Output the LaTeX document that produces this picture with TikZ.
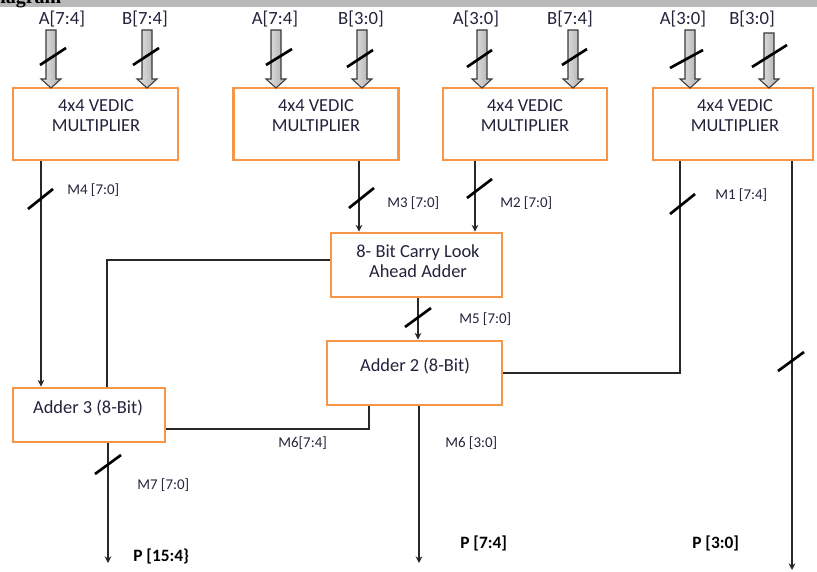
\documentclass[tikz,border=0pt]{standalone}
\usepackage{fontspec}
\setmainfont{Carlito}
\newfontfamily\headfont{Liberation Serif}
\usetikzlibrary{arrows.meta,calc}
\definecolor{boxorange}{RGB}{247,150,70}
\definecolor{txt}{RGB}{35,35,60}
\definecolor{wire}{RGB}{40,40,40}
\begin{document}
\begin{tikzpicture}[x=0.75pt,y=-0.75pt,
  blk/.style={draw=boxorange,line width=2.2pt,fill=white,inner sep=0pt,rectangle},
  btxt/.style={text=txt,font=\fontsize{13.8}{15}\selectfont,align=center,inner sep=0pt,anchor=center},
  inlbl/.style={text=txt,font=\fontsize{14}{16}\selectfont,inner sep=0pt,anchor=center},
  sig/.style={text=txt,font=\fontsize{11.2}{13}\selectfont,inner sep=0pt,anchor=west},
  outlbl/.style={text=black,font=\bfseries\fontsize{13}{15}\selectfont,inner sep=0pt,anchor=west},
  wr/.style={draw=wire,line width=0.9pt},
  wra/.style={wr,-{Stealth[length=5pt,width=5pt]}},
  bus/.style={draw=black,line width=2pt},
  garr/.style={draw=gray!45!black,line width=0.8pt,left color=gray!20,right color=gray!65}
]
\useasboundingbox (0,0) rectangle (817,571);
% top band (clipped heading)
\fill[gray!55] (0,0) rectangle (817,7);
\begin{scope}
\clip (0,0) rectangle (817,7);
\node[anchor=base west,inner sep=0pt,font=\headfont\bfseries\fontsize{15}{17}\selectfont] (hd) at (0,3) {iagram};
\end{scope}

% blocks
\node[blk,minimum width=165*0.75pt,minimum height=72*0.75pt] (m1) at (95.5,124) {};
\node[blk,minimum width=165*0.75pt,minimum height=72*0.75pt] (m2) at (316,124) {};
\node[blk,minimum width=164*0.75pt,minimum height=72*0.75pt] (m3) at (525,124) {};
\node[blk,minimum width=160*0.75pt,minimum height=72*0.75pt] (m4) at (733,124) {};
\node[blk,minimum width=171*0.75pt,minimum height=64*0.75pt] (cla) at (416.5,265) {};
\node[blk,minimum width=175*0.75pt,minimum height=64*0.75pt] (a2) at (414.5,373) {};
\node[blk,minimum width=152*0.75pt,minimum height=54*0.75pt] (a3) at (89,415) {};

% block texts
\node[btxt] (t1) at (96,116) {4x4 VEDIC\\MULTIPLIER};
\node[btxt] (t2) at (316,116) {4x4 VEDIC\\MULTIPLIER};
\node[btxt] (t3) at (525,116) {4x4 VEDIC\\MULTIPLIER};
\node[btxt] (t4) at (735,116) {4x4 VEDIC\\MULTIPLIER};
\node[btxt] (tc) at (418,261) {8- Bit Carry Look\\Ahead Adder};
\node[btxt] (ta2) at (415,366) {Adder 2 (8-Bit)};
\node[btxt] (ta3) at (88,408) {Adder 3 (8-Bit)};

% input labels
\node[inlbl] (i1) at (62,19) {A[7:4]};
\node[inlbl] (i2) at (145,19) {B[7:4]};
\node[inlbl] (i3) at (275,19) {A[7:4]};
\node[inlbl] (i4) at (361,19) {B[3:0]};
\node[inlbl] (i5) at (476,19) {A[3:0]};
\node[inlbl] (i6) at (570,19) {B[7:4]};
\node[inlbl] (i7) at (683,19) {A[3:0]};
\node[inlbl] (i8) at (752,19) {B[3:0]};

% gray block arrows
\foreach \xa/\yt in {51/30,147/30,276/30,362/30,482/30,573/30,690/30,769/33}{
  \shade[garr] (\xa-5,\yt) -- (\xa+5,\yt) -- (\xa+5,79) -- (\xa+10,79) -- (\xa,88) -- (\xa-10,79) -- (\xa-5,79) -- cycle;
}
% bus slashes on inputs
\draw[bus] (40,65) -- (66,48);
\draw[bus] (133,65) -- (159,48);
\draw[bus] (266,65) -- (292,49);
\draw[bus] (347,67) -- (373,50);
\draw[bus] (467,67) -- (492,50);
\draw[bus] (562,65) -- (587,49);
\draw[bus] (670,68) -- (703,50);
\draw[bus] (752,67) -- (787,45);

% helper coordinates
\coordinate (x41) at (41,0);
\coordinate (x359) at (359,0);
\coordinate (x475) at (475,0);
\coordinate (x418) at (418,0);
\coordinate (x680) at (680,0);
\coordinate (x792) at (792,0);
\coordinate (x108) at (108,0);
\coordinate (x419) at (419,0);
\coordinate (p15) at (108,563);
\coordinate (p74) at (419,563);
\coordinate (p30) at (792,570);

% connectors
\draw[wra] (m1.south -| x41) -- (a3.north -| x41);
\draw[wra] (m2.south -| x359) -- (cla.north -| x359);
\draw[wra] (m3.south -| x475) -- (cla.north -| x475);
\draw[wra] (cla.south -| x418) -- (a2.north -| x418);
\draw[wr] (m4.south -| x680) |- (a2.east);
\draw[wra] (m4.south -| x792) -- (p30);
\draw[wr] ($(cla.west)+(0,-5)$) -| ($(a3.north)+(18,0)$);
\draw[wr] ($(a3.east)+(0,14)$) -| ($(a2.south)+(-45.5,0)$);
\draw[wra] (a3.south -| x108) -- (p15);
\draw[wra] (a2.south -| x419) -- (p74);

% connector slashes
\draw[bus] (28,209) -- (53,189);
\draw[bus] (349,208) -- (374,188);
\draw[bus] (467,198) -- (492,179);
\draw[bus] (405,327) -- (431,308);
\draw[bus] (670,214) -- (695,194);
\draw[bus] (778,371) -- (804,352);
\draw[bus] (95,474) -- (121,455);

% signal labels
\node[sig] (s4) at (67,190) {M4 [7:0]};
\node[sig] (s3) at (387,203) {M3 [7:0]};
\node[sig] (s2) at (500,203) {M2 [7:0]};
\node[sig] (s1) at (715,195) {M1 [7:4]};
\node[sig] (s5) at (459,319) {M5 [7:0]};
\node[sig] (s6a) at (278,443) {M6[7:4]};
\node[sig] (s7) at (137,485) {M7 [7:0]};
\node[sig] (s6b) at (445,443) {M6 [3:0]};

% outputs
\node[outlbl] (o1) at (133,556) {P [15:4\}};
\node[outlbl] (o2) at (460,543) {P [7:4]};
\node[outlbl] (o3) at (692,543) {P [3:0]};
\end{tikzpicture}
\end{document}
